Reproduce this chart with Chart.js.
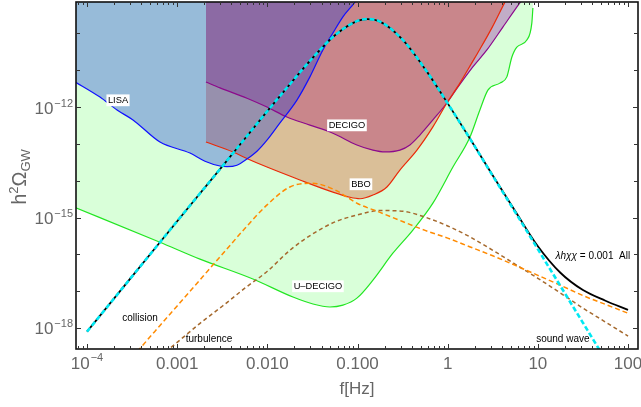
<!DOCTYPE html>
<html><head><meta charset="utf-8">
<script src="https://cdn.jsdelivr.net/npm/chart.js@4.4.1/dist/chart.umd.min.js"></script>
<style>html,body{margin:0;padding:0;background:#fff;overflow:hidden}</style>
</head><body>
<canvas id="c" width="641" height="407"></canvas>
<script>
// ===== Data (log10 values) =====
// sound wave (cyan dashed)
const swLogF     = [-4,-3.5,-3,-2.5,-2,-1.75,-1.5,-1.25,-1,-0.885,-0.75,-0.5,-0.25,0,0.25,0.5,0.75,1,1.25,1.5,1.75];
const swLogOmega = [-18.10,-16.60,-15.10,-13.61,-12.11,-11.38,-10.67,-10.05,-9.66,-9.61,-9.68,-10.17,-10.97,-11.90,-12.87,-13.87,-14.86,-15.86,-16.86,-17.86,-18.86];
// total "All" (black)
const allLogF     = [-4,-3.5,-3,-2.5,-2,-1.75,-1.5,-1.25,-1,-0.885,-0.75,-0.5,-0.25,0,0.25,0.5,0.75,1,1.25,1.5,1.75,2];
const allLogOmega = [-18.10,-16.60,-15.10,-13.61,-12.11,-11.38,-10.67,-10.05,-9.66,-9.61,-9.68,-10.17,-10.97,-11.90,-12.87,-13.86,-14.83,-15.78,-16.50,-16.97,-17.26,-17.51];
// collision (orange dashed)
const colLogF     = [-3.5,-3.25,-3,-2.75,-2.5,-2.25,-2,-1.75,-1.5,-1.25,-1,-0.75,-0.5,-0.25,0,0.25,0.5,0.75,1,1.25,1.5,1.75,2];
const colLogOmega = [-18.80,-18.10,-17.40,-16.70,-16.00,-15.30,-14.65,-14.17,-14.07,-14.25,-14.62,-14.86,-15.11,-15.35,-15.56,-15.80,-16.04,-16.30,-16.57,-16.84,-17.12,-17.36,-17.60];
// turbulence (brown dashed)
const turLogF     = [-3.25,-3,-2.75,-2.5,-2.25,-2,-1.75,-1.5,-1.25,-1,-0.75,-0.5,-0.25,0,0.25,0.5,0.75,1,1.25,1.5,1.75,2];
const turLogOmega = [-18.88,-18.39,-17.88,-17.41,-16.92,-16.46,-15.89,-15.45,-15.12,-14.93,-14.81,-14.83,-14.99,-15.23,-15.53,-15.89,-16.27,-16.65,-17.05,-17.46,-17.84,-18.22];
// LISA sensitivity
const lisaLogF     = [-4.15,-3.856,-3.667,-3.49,-3.191,-2.858,-2.692,-2.525,-2.448,-2.337,-2.226,-2.115,-2.004,-1.86,-1.672,-1.528,-1.384,-1.273,-1.162,-1.029,-0.95];
const lisaLogOmega = [-11.29,-11.73,-12.08,-12.35,-12.95,-13.25,-13.47,-13.60,-13.62,-13.58,-13.41,-13.20,-12.90,-12.43,-11.81,-11.18,-10.45,-9.99,-9.55,-9.15,-8.85];
// BBO sensitivity
const bboLogF     = [-2.681,-2.381,-2.215,-2.004,-1.639,-1.273,-1.084,-0.973,-0.829,-0.674,-0.53,-0.341,-0.164,-0.009,0.135,0.268,0.357,0.49,0.634,0.75];
const bboLogOmega = [-12.95,-13.22,-13.41,-13.63,-13.98,-14.31,-14.45,-14.49,-14.39,-14.17,-13.71,-13.17,-12.54,-11.89,-11.35,-10.80,-10.43,-9.85,-9.15,-8.6];
// DECIGO sensitivity
const decLogF     = [-2.681,-2.525,-2.226,-2.004,-1.783,-1.528,-1.273,-1.007,-0.829,-0.696,-0.53,-0.419,-0.308,-0.164,-0.009,0.113,0.279,0.435,0.612,0.8,0.9];
const decLogOmega = [-11.32,-11.48,-11.76,-12.00,-12.27,-12.49,-12.71,-13.03,-13.17,-13.22,-13.17,-13.03,-12.76,-12.35,-11.89,-11.46,-10.91,-10.45,-9.83,-9.17,-8.85];
// U-DECIGO sensitivity
const udLogF     = [-4.2,-3.191,-2.747,-2.16,-1.716,-1.494,-1.306,-1.162,-1.007,-0.829,-0.608,-0.386,-0.164,0.058,0.246,0.357,0.446,0.579,0.656,0.712,0.767,0.878,0.933,0.945];
const udLogOmega = [-14.66,-15.67,-16.13,-16.67,-17.16,-17.35,-17.43,-17.38,-17.19,-16.70,-15.97,-15.34,-14.61,-13.63,-12.82,-12.08,-11.54,-11.35,-11.18,-10.64,-10.37,-10.18,-9.72,-9.31];

// tick labels
const xTickValues = [1e-4, 1e-3, 1e-2, 1e-1, 1, 10, 100];
const xTickLabels = [['10','\u22124'],['0.001',''],['0.010',''],['0.100',''],['1',''],['10',''],['100','']];
const yTickValues = [1e-18, 1e-15, 1e-12];
const yTickExps   = ['\u221218','\u221215','\u221212'];

// curve labels (log10 f, log10 Omega)
const curveLabels = [
  {text:'LISA',      lf:-3.656, lo:-11.81, box:true,  size:9.3},
  {text:'DECIGO',    lf:-1.117, lo:-12.49, box:true,  size:9.3},
  {text:'BBO',       lf:-0.962, lo:-14.09, box:true,  size:9.3},
  {text:'U\u2013DECIGO', lf:-1.439, lo:-16.86, box:true, size:9.3},
  {text:'collision', lf:-3.412, lo:-17.73, box:false, size:10},
  {text:'turbulence',lf:-2.647, lo:-18.28, box:false, size:10},
  {text:'sound wave',lf:1.277,  lo:-18.28, box:false, size:10}
];
const allLabel = {ital:'\u03bbh\u03c7\u03c7', rest:' = 0.001  All', lf:1.61, lo:-16.05, size:10};

// ===== build =====
const pts = (lf, lo) => lf.map((v,i)=>({x: Math.pow(10,v), y: Math.pow(10, lo[i])}));
const base = {pointRadius:0, pointHoverRadius:0, fill:false, cubicInterpolationMode:'monotone', borderWidth:1.2};
const FONT = '"Liberation Sans", Arial, sans-serif';

const datasets = [
  Object.assign({}, base, {label:'sound wave', data:pts(swLogF, swLogOmega), borderColor:'#00e8f2', borderWidth:2.6, borderDash:[5,2.6]}),
  Object.assign({}, base, {label:'All', data:pts(allLogF, allLogOmega), borderColor:'#000000', borderWidth:1.8}),
  Object.assign({}, base, {label:'collision', data:pts(colLogF, colLogOmega), borderColor:'#ff8a00', borderWidth:1.5, borderDash:[5,3]}),
  Object.assign({}, base, {label:'turbulence', data:pts(turLogF, turLogOmega), borderColor:'#a5692d', borderWidth:1.5, borderDash:[4,3]}),
  Object.assign({}, base, {label:'LISA', data:pts(lisaLogF, lisaLogOmega), borderColor:'#1010ff', fill:'end', backgroundColor:'rgba(14,50,217,0.33)'}),
  Object.assign({}, base, {label:'BBO', data:pts(bboLogF, bboLogOmega), borderColor:'#ea2a08', fill:'end', backgroundColor:'rgba(220,43,0,0.30)'}),
  Object.assign({}, base, {label:'DECIGO', data:pts(decLogF, decLogOmega), borderColor:'#8c0a8c', fill:'end', backgroundColor:'rgba(140,0,160,0.32)'}),
  Object.assign({}, base, {label:'U-DECIGO', data:pts(udLogF, udLogOmega), borderColor:'#22e622', fill:'end', backgroundColor:'rgba(0,255,0,0.15)'})
];

const framePlugin = {
  id:'frame',
  afterDraw(chart){
    const {ctx, chartArea:a, scales:{x, y}} = chart;
    ctx.save();
    // curve labels
    ctx.textAlign='center'; ctx.textBaseline='middle';
    curveLabels.forEach(l=>{
      const px = x.getPixelForValue(Math.pow(10,l.lf)), py = y.getPixelForValue(Math.pow(10,l.lo));
      ctx.font = l.size+'px '+FONT;
      const w = ctx.measureText(l.text).width;
      if (l.box){ ctx.fillStyle='#fff'; ctx.fillRect(px-w/2-1.5, py-l.size/2-1, w+3, l.size+2.5); }
      ctx.fillStyle='#000'; ctx.fillText(l.text, px, py+0.5);
    });
    {
      const px = x.getPixelForValue(Math.pow(10,allLabel.lf)), py = y.getPixelForValue(Math.pow(10,allLabel.lo));
      ctx.font = 'italic '+allLabel.size+'px '+FONT;
      const w1 = ctx.measureText(allLabel.ital).width;
      ctx.font = allLabel.size+'px '+FONT;
      const w2 = ctx.measureText(allLabel.rest).width;
      let sx = px-(w1+w2)/2;
      ctx.textAlign='left'; ctx.fillStyle='#000';
      ctx.font = 'italic '+allLabel.size+'px '+FONT; ctx.fillText(allLabel.ital, sx, py+0.5);
      ctx.font = allLabel.size+'px '+FONT; ctx.fillText(allLabel.rest, sx+w1, py+0.5);
    }
    // frame
    ctx.strokeStyle='#111'; ctx.lineWidth=1.6;
    ctx.strokeRect(a.left, a.top, a.right-a.left, a.bottom-a.top);
    // ticks
    ctx.lineWidth=1; ctx.strokeStyle='#333';
    const ln=(x1,y1,x2,y2)=>{ctx.beginPath();ctx.moveTo(x1,y1);ctx.lineTo(x2,y2);ctx.stroke();};
    for (let d=-5; d<=2; d++) for (let k=1; k<=9; k++){
      const v = k*Math.pow(10,d);
      if (v < x.min || v > x.max) continue;
      const px = Math.round(x.getPixelForValue(v))+0.5, L = k===1?5:3;
      ln(px,a.bottom,px,a.bottom-L); ln(px,a.top,px,a.top+L);
    }
    for (let d=-19; d<=-9; d++){
      const v = Math.pow(10,d);
      if (v < y.min || v > y.max) continue;
      const py = Math.round(y.getPixelForValue(v))+0.5, L = (d%3===0)?5:4;
      ln(a.left,py,a.left+L,py); ln(a.right,py,a.right-L,py);
    }
    // tick labels
    ctx.fillStyle='#666'; ctx.textBaseline='alphabetic'; ctx.textAlign='left';
    xTickValues.forEach((v,i)=>{
      const px = x.getPixelForValue(v);
      const [m, e] = xTickLabels[i];
      ctx.font='17px '+FONT; const wm = ctx.measureText(m).width;
      ctx.font='11px '+FONT; const we = e ? ctx.measureText(e).width+1 : 0;
      const sx = px-(wm+we)/2;
      ctx.font='17px '+FONT; ctx.fillText(m, sx, 368.5);
      if (e){ ctx.font='11px '+FONT; ctx.fillText(e, sx+wm+1, 361); }
    });
    yTickValues.forEach((v,i)=>{
      const py = y.getPixelForValue(v);
      ctx.font='11px '+FONT; const we = ctx.measureText(yTickExps[i]).width;
      ctx.font='17px '+FONT; const wm = ctx.measureText('10').width;
      const right = 73;
      ctx.fillText('10', right-we-1-wm, py+6.5);
      ctx.font='11px '+FONT; ctx.fillText(yTickExps[i], right-we, py-0.5);
    });
    // axis titles
    ctx.font='17px '+FONT; ctx.textAlign='center';
    ctx.fillText('f[Hz]', (a.left+a.right)/2, 394);
    ctx.save();
    ctx.translate(19, 177); ctx.rotate(-Math.PI/2);
    ctx.font='20px '+FONT; const wh = ctx.measureText('h').width, wO = ctx.measureText('\u03a9').width;
    ctx.font='13px '+FONT; const w2 = ctx.measureText('2').width, wG = ctx.measureText('GW').width;
    let sx = -(wh+w2+wO+wG)/2;
    ctx.textAlign='left';
    ctx.font='20px '+FONT; ctx.fillText('h', sx, 7); sx+=wh;
    ctx.font='13px '+FONT; ctx.fillText('2', sx, -1); sx+=w2;
    ctx.font='20px '+FONT; ctx.fillText('\u03a9', sx, 7); sx+=wO;
    ctx.font='13px '+FONT; ctx.fillText('GW', sx, 11);
    ctx.restore();
    ctx.restore();
  }
};

new Chart(document.getElementById('c'), {
  type:'line',
  data:{datasets},
  options:{
    responsive:false, animation:false, devicePixelRatio:1,
    layout:{padding:{top:2, right:3, left:0, bottom:0}},
    plugins:{legend:{display:false}, tooltip:{enabled:false}, filler:{drawTime:'beforeDatasetsDraw'}},
    scales:{
      x:{type:'logarithmic', bounds:'data', min:7.55e-5, max:129, afterFit(s){s.height=58;}, ticks:{display:false}, grid:{display:false}, border:{display:false}},
      y:{type:'logarithmic', bounds:'data', min:2.685e-19, max:7.13e-10, afterFit(s){s.width=76;}, ticks:{display:false}, grid:{display:false}, border:{display:false}}
    }
  },
  plugins:[framePlugin]
});
</script>
</body></html>
